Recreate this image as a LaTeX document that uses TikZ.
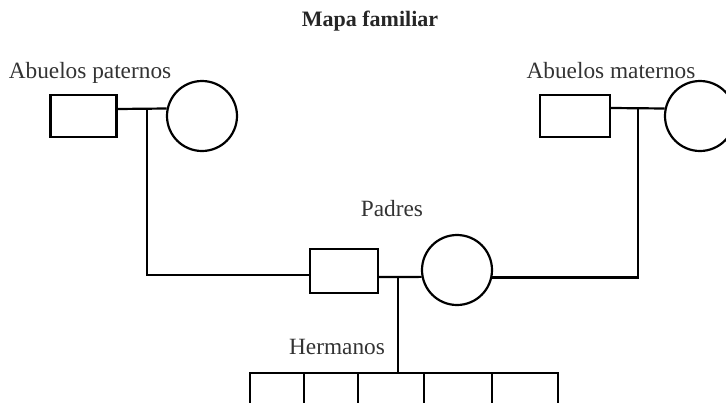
\documentclass[tikz,border=0pt]{standalone}
\usepackage{fontspec}
\setmainfont{Liberation Serif}
\begin{document}
\begin{tikzpicture}[x=1pt,y=-1pt,
  line width=2.2pt,
  male/.style={draw,rectangle,minimum width=66pt,minimum height=42pt,inner sep=0pt},
  female/.style={draw,circle,minimum size=70pt,inner sep=0pt},
  lbl/.style={anchor=base,inner sep=0pt,font=\fontsize{23.3}{28}\selectfont,text=black!80},
  link/.style={line width=2.2pt,line join=miter}]
\clip (0,0) rectangle (726,402);
\useasboundingbox (0,0) rectangle (726,402);
% title
\node[lbl,font=\fontsize{22}{26}\selectfont\bfseries,text=black!85] (title) at (370,26) {Mapa familiar};
% paternal grandparents
\node[lbl] (tp) at (90,78) {Abuelos paternos};
\node[male] (pr) at (83.5,116) {};
\node[female] (pc) at (202,116) {};
% maternal grandparents
\node[lbl] (tm) at (611,78) {Abuelos maternos};
\node[male,minimum width=70pt] (mr) at (575,116) {};
\node[female] (mc) at (700,116) {};
% parents
\node[lbl] (tpa) at (392,216) {Padres};
\node[male,minimum width=68pt,minimum height=44pt] (fr) at (344,271) {};
\node[female] (fc) at (457,270) {};
% siblings label
\node[lbl] (th) at (337,354) {Hermanos};
% coordinates
\coordinate (pj) at (147,109);
\coordinate (mj) at (638,108);
\coordinate (cj) at (398,277);
\coordinate (sb) at (398,373);
\coordinate (pl) at (147,275);
% couple lines
\draw[link] (pr.east |- pj) -- (pc.168.5);
\draw[link] (mr.east |- mj) -- (mc.168.5);
\draw[link] (fr.east |- cj) -- (fc.191.5);
% descent lines
\draw[link] (pj) -- (pl) -- (fr.west |- pl);
\draw[link] (mj) -- (mj |- fc.348.5) -- (fc.348.5);
\draw[link] (cj) -- (sb);
% siblings bracket
\coordinate (s1) at (250,373);
\coordinate (s2) at (304,373);
\coordinate (s3) at (358,373);
\coordinate (s4) at (424,373);
\coordinate (s5) at (492,373);
\coordinate (s6) at (558,373);
\draw[link] (s1 |- s1) ++(0,40) -- (s1) -- (s6) -- ++(0,40);
\foreach \s in {s2,s3,s4,s5} \draw[link] (\s) -- ++(0,40);
\end{tikzpicture}
\end{document}
